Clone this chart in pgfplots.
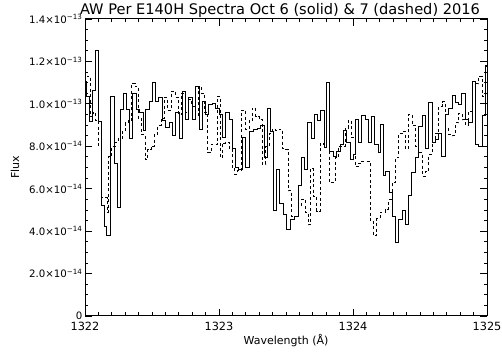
\documentclass[border=0pt]{standalone}
\usepackage{pgfplots}
\pgfplotsset{compat=1.18}
\usepackage{fontspec}
\setmainfont{DejaVu Sans}
\begin{document}
\begin{tikzpicture}
\useasboundingbox (-85pt,-36pt) rectangle (417pt,316pt);
\begin{axis}[
  at={(0,0)}, anchor=south west,
  width=402pt, height=297pt, scale only axis,
  xmin=1322, xmax=1325, ymin=0, ymax=14,
  xtick={1322,1323,1324,1325}, xticklabels={1322,1323,1324,1325},
  minor x tick num=9,
  ytick={0,2,4,6,8,10,12,14},
  yticklabels={0,
    2.0×10\textsuperscript{−14},
    4.0×10\textsuperscript{−14},
    6.0×10\textsuperscript{−14},
    8.0×10\textsuperscript{−14},
    1.0×10\textsuperscript{−13},
    1.2×10\textsuperscript{−13},
    1.4×10\textsuperscript{−13}},
  minor y tick num=3,
  major tick length=7pt, minor tick length=3.5pt,
  tick style={black, line width=0.8pt},
  axis line style={line width=1pt},
  xticklabel style={font=\fontsize{11.3}{12}\selectfont, yshift=-3pt},
  yticklabel style={font=\fontsize{10.2}{11}\selectfont, xshift=1pt},
  every axis title/.style={font=\fontsize{14.6}{16}\selectfont, at={(axis description cs:0.5,1)}, anchor=base, yshift=4pt, xshift=-6pt},
  title={AW Per E140H Spectra Oct 6 (solid) \& 7 (dashed) 2016},
  xlabel={Wavelength (Å)}, ylabel={Flux},
  xlabel style={font=\fontsize{11}{12}\selectfont, at={(axis description cs:0.5,-0.084)}, anchor=center},
  ylabel style={font=\fontsize{11}{12}\selectfont, at={(axis description cs:-0.174,0.5)}, anchor=center},
]
\addplot[const plot, black, line width=1pt] coordinates {
(1322.000,11.05) (1322.013,10.34) (1322.030,9.17) (1322.054,10.65) (1322.080,12.5) (1322.104,9.17) (1322.125,5.2) (1322.144,4.2) (1322.164,3.8) (1322.194,10.34) (1322.219,7.2) (1322.244,5.1) (1322.263,9.75) (1322.289,10.5) (1322.313,9.75) (1322.334,8.36) (1322.358,10.5) (1322.383,9.75) (1322.408,9.6) (1322.433,8.75) (1322.453,9.75) (1322.478,10.1) (1322.502,11.0) (1322.528,10.1) (1322.552,10.3) (1322.577,9.2) (1322.602,8.9) (1322.627,9.1) (1322.652,8.5) (1322.677,9.6) (1322.702,8.36) (1322.726,10.6) (1322.752,9.25) (1322.776,10.3) (1322.801,9.25) (1322.826,10.8) (1322.851,8.8) (1322.875,10.1) (1322.901,9.5) (1322.925,9.95) (1322.950,10.0) (1322.975,9.8) (1323.000,9.5) (1323.025,8.4) (1323.050,9.6) (1323.075,9.25) (1323.099,7.9) (1323.125,7.0) (1323.149,6.9) (1323.174,8.4) (1323.199,7.0) (1323.224,8.7) (1323.257,8.8) (1323.286,8.85) (1323.311,9.0) (1323.336,7.45) (1323.360,9.8) (1323.386,8.7) (1323.405,4.95) (1323.431,6.9) (1323.455,5.3) (1323.480,4.8) (1323.505,4.1) (1323.534,4.55) (1323.562,4.7) (1323.592,6.15) (1323.612,7.45) (1323.637,6.9) (1323.662,9.1) (1323.687,8.36) (1323.711,9.5) (1323.737,9.2) (1323.761,9.7) (1323.786,7.95) (1323.804,11.0) (1323.828,7.75) (1323.853,7.5) (1323.878,7.75) (1323.903,8.1) (1323.928,8.75) (1323.953,8.2) (1323.978,7.4) (1324.002,7.6) (1324.019,9.25) (1324.040,8.2) (1324.065,9.45) (1324.090,9.25) (1324.114,8.2) (1324.140,9.4) (1324.164,8.1) (1324.189,7.7) (1324.205,9.05) (1324.226,6.6) (1324.246,6.8) (1324.271,5.8) (1324.296,4.7) (1324.316,3.47) (1324.341,4.55) (1324.366,4.95) (1324.390,4.3) (1324.416,5.7) (1324.440,6.75) (1324.465,7.45) (1324.490,8.95) (1324.515,9.45) (1324.540,7.9) (1324.565,10.05) (1324.590,8.2) (1324.614,8.3) (1324.640,8.6) (1324.664,7.5) (1324.689,9.5) (1324.714,9.8) (1324.739,10.4) (1324.763,10.05) (1324.789,9.95) (1324.813,10.5) (1324.838,9.25) (1324.863,9.1) (1324.888,11.05) (1324.913,8.1) (1324.938,8.0) (1324.963,9.45) (1324.987,11.8) (1325.000,11.8)
};
\addplot[const plot, black, line width=0.9pt, dash pattern=on 3pt off 2.5pt] coordinates {
(1322.000,11.5) (1322.015,11.3) (1322.040,9.4) (1322.060,9.6) (1322.080,9.2) (1322.104,8.0) (1322.125,5.6) (1322.164,4.9) (1322.174,7.5) (1322.199,8.0) (1322.224,8.2) (1322.249,8.35) (1322.278,8.7) (1322.299,9.1) (1322.323,9.2) (1322.349,10.97) (1322.373,10.8) (1322.398,9.3) (1322.423,8.55) (1322.448,7.37) (1322.468,7.84) (1322.493,8.0) (1322.517,8.55) (1322.543,9.0) (1322.567,9.3) (1322.592,10.3) (1322.617,9.7) (1322.647,10.6) (1322.672,10.3) (1322.696,9.5) (1322.722,10.5) (1322.746,9.6) (1322.771,10.2) (1322.796,9.9) (1322.821,9.4) (1322.846,10.8) (1322.871,10.5) (1322.890,9.6) (1322.916,7.7) (1322.940,8.1) (1322.965,8.1) (1322.990,10.35) (1323.011,7.45) (1323.025,8.15) (1323.050,8.2) (1323.075,7.85) (1323.099,7.0) (1323.119,6.67) (1323.137,6.85) (1323.164,9.7) (1323.199,8.8) (1323.224,9.2) (1323.249,9.8) (1323.274,9.4) (1323.299,9.25) (1323.323,7.15) (1323.349,8.0) (1323.373,8.6) (1323.398,8.8) (1323.423,8.75) (1323.448,8.8) (1323.472,7.9) (1323.498,7.85) (1323.517,5.9) (1323.543,4.7) (1323.592,5.2) (1323.617,5.5) (1323.642,4.9) (1323.666,4.3) (1323.683,6.95) (1323.704,5.65) (1323.729,4.95) (1323.754,8.15) (1323.778,8.1) (1323.804,8.55) (1323.821,6.3) (1323.866,7.45) (1323.890,8.0) (1323.940,8.85) (1323.965,9.2) (1323.990,8.4) (1324.015,7.05) (1324.040,7.2) (1324.065,7.3) (1324.127,4.5) (1324.152,3.8) (1324.177,4.6) (1324.202,4.9) (1324.239,5.03) (1324.265,5.5) (1324.291,6.3) (1324.316,7.45) (1324.341,8.6) (1324.366,8.7) (1324.390,7.9) (1324.416,9.5) (1324.440,9.0) (1324.465,8.0) (1324.490,7.7) (1324.515,6.6) (1324.540,6.8) (1324.565,7.6) (1324.590,8.2) (1324.614,8.6) (1324.640,9.9) (1324.664,10.1) (1324.689,8.85) (1324.714,8.55) (1324.739,8.5) (1324.763,9.1) (1324.789,9.55) (1324.813,9.25) (1324.838,9.0) (1324.863,9.65) (1324.888,10.2) (1324.913,10.95) (1324.938,11.3) (1324.963,10.35) (1324.987,11.75) (1325.000,11.75)
};
\end{axis}
\end{tikzpicture}
\end{document}
